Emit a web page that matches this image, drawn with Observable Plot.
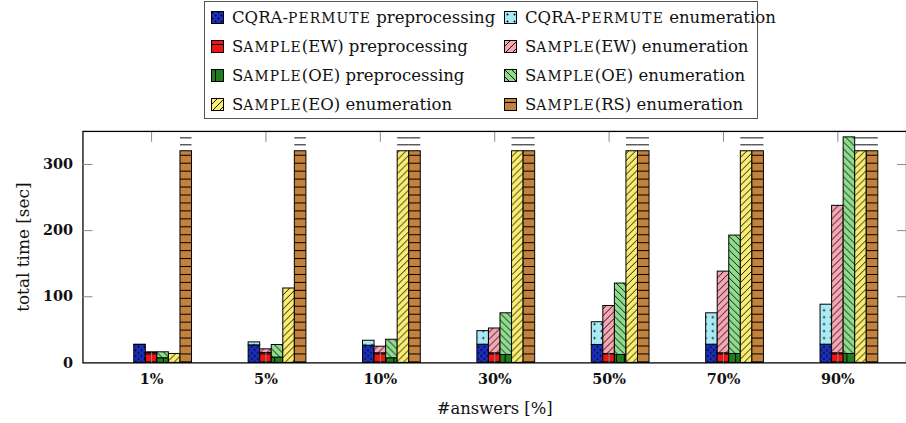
<!DOCTYPE html>
<html>
<head>
<meta charset="utf-8">
<script src="https://cdn.jsdelivr.net/npm/d3@7"></script>
<script src="https://cdn.jsdelivr.net/npm/@observablehq/plot@0.6"></script>
<style>
  html, body { margin: 0; padding: 0; overflow: hidden; background: #fff; }
  #page { position: relative; width: 906px; height: 423px; overflow: hidden; }
  #defs { position: absolute; width: 0; height: 0; }
  #legend {
    position: absolute; left: 204px; top: 1px; width: 554px; height: 118px;
    box-sizing: border-box; border: 1px solid #555; padding: 1px 0 0 6px;
    display: grid; grid-template-columns: 293px auto; grid-auto-rows: 29px;
    font-family: "DejaVu Serif", serif; font-size: 16.5px; color: #111;
  }
  .item { display: flex; align-items: center; white-space: nowrap; }
  .item svg { flex: none; margin-right: 8px; }
  .sc { text-transform: uppercase; font-size: 0.84em; letter-spacing: 0.08em; }
  #chart { position: absolute; left: 0; top: 119px; }
</style>
</head>
<body>
<div id="page">
  <svg id="defs" aria-hidden="true">
    <defs>
      <pattern id="p-cqra-pre" width="6" height="6" patternUnits="userSpaceOnUse">
        <rect width="6" height="6" fill="#1a2fc0"/>
        <circle cx="1.5" cy="1.5" r="0.95" fill="#000"/>
        <circle cx="4.5" cy="4.5" r="0.95" fill="#000"/>
      </pattern>
      <pattern id="p-cqra-enum" width="7" height="7" patternUnits="userSpaceOnUse">
        <rect width="7" height="7" fill="#a8ebf5"/>
        <circle cx="3.5" cy="3.5" r="1" fill="#000"/>
      </pattern>
      <pattern id="p-ew-pre" width="8" height="8" patternUnits="userSpaceOnUse">
        <rect width="8" height="8" fill="#ee1515"/>
        <path d="M0,4.5H8" stroke="#000" stroke-width="1"/>
      </pattern>
      <pattern id="p-ew-enum" width="7" height="7" patternUnits="userSpaceOnUse">
        <rect width="7" height="7" fill="#f5a7b4"/>
        <path d="M0,7L7,0M-1,1L1,-1M6,8L8,6" stroke="#000" stroke-width="0.9"/>
      </pattern>
      <pattern id="p-oe-pre" width="8" height="8" patternUnits="userSpaceOnUse">
        <rect width="8" height="8" fill="#1e7d1e"/>
        <path d="M4.5,0V8" stroke="#000" stroke-width="1"/>
      </pattern>
      <pattern id="p-oe-enum" width="7" height="7" patternUnits="userSpaceOnUse">
        <rect width="7" height="7" fill="#8fdc8f"/>
        <path d="M0,0L7,7M-1,6L1,8M6,-1L8,1" stroke="#000" stroke-width="0.9"/>
      </pattern>
      <pattern id="p-eo-enum" width="7" height="7" patternUnits="userSpaceOnUse">
        <rect width="7" height="7" fill="#f8ec72"/>
        <path d="M0,7L7,0M-1,1L1,-1M6,8L8,6" stroke="#000" stroke-width="0.9"/>
      </pattern>
      <pattern id="p-rs-enum" width="8" height="8" patternUnits="userSpaceOnUse">
        <rect width="8" height="8" fill="#c2823d"/>
        <path d="M0,4.5H8" stroke="#000" stroke-width="1"/>
      </pattern>
    </defs>
  </svg>
  <div id="legend"></div>
  <div id="chart"></div>
</div>
<script>
// Share of answers requested
const groups = ["1%", "5%", "10%", "30%", "50%", "70%", "90%"];

// Total time in seconds, split into preprocessing and enumeration
const cqraPre  = [27, 26.5, 26, 27.5, 27, 27.5, 27.5];
const cqraEnum = [0.5, 4.5, 7.5, 20.5, 34.5, 47.5, 60.5];
const ewPre    = [15, 15, 14.5, 14.5, 13.5, 14.5, 14.5];
const ewEnum   = [1, 5.5, 10, 37.5, 72.5, 123.5, 223];
const oePre    = [7, 8, 7, 12, 12, 13.5, 13.5];
const oeEnum   = [9, 19, 28, 63, 108, 179, 327.5];
const eoEnum   = [13.5, 112.5, 320, 320, 320, 320, 320];
const rsEnum   = [320, 320, 320, 320, 320, 320, 320];

// Runs that hit the time limit are drawn at this value
const TIMEOUT = 320;

const yTicks = [0, 100, 200, 300];
const xLabel = "#answers [%]";
const yLabel = "total time [sec]";

// Legend entries, {…} is set in small capitals
const legendLabels = [
  "CQRA-{permute} preprocessing", "CQRA-{permute} enumeration",
  "S{ample}(EW) preprocessing",   "S{ample}(EW) enumeration",
  "S{ample}(OE) preprocessing",   "S{ample}(OE) enumeration",
  "S{ample}(EO) enumeration",     "S{ample}(RS) enumeration"
];
const legendFills = [
  "p-cqra-pre", "p-cqra-enum", "p-ew-pre", "p-ew-enum",
  "p-oe-pre", "p-oe-enum", "p-eo-enum", "p-rs-enum"
];

// Each method gets one slot next to the group tick; width of a bar in group units
const BAR = 0.101;
const methods = [
  {slot: -1, pre: cqraPre, enumr: cqraEnum, preFill: "p-cqra-pre", enumFill: "p-cqra-enum"},
  {slot:  0, pre: ewPre,   enumr: ewEnum,   preFill: "p-ew-pre",   enumFill: "p-ew-enum"},
  {slot:  1, pre: oePre,   enumr: oeEnum,   preFill: "p-oe-pre",   enumFill: "p-oe-enum"},
  {slot:  2, pre: null,    enumr: eoEnum,   preFill: null,         enumFill: "p-eo-enum"},
  {slot:  3, pre: null,    enumr: rsEnum,   preFill: null,         enumFill: "p-rs-enum"}
];

const barMarks = [];
const timeoutRows = [];
for (const m of methods) {
  const base = groups.map((g, i) => ({
    x1: i + (m.slot - 0.5) * BAR,
    x2: i + (m.slot + 0.5) * BAR,
    pre: m.pre ? m.pre[i] : 0,
    enumr: m.enumr[i]
  }));
  if (m.pre) {
    barMarks.push(Plot.rectY(base, {
      x1: "x1", x2: "x2", y1: 0, y2: "pre",
      fill: `url(#${m.preFill})`, stroke: "#000", strokeWidth: 1
    }));
  }
  barMarks.push(Plot.rectY(base, {
    x1: "x1", x2: "x2", y1: "pre", y2: d => d.pre + d.enumr,
    fill: `url(#${m.enumFill})`, stroke: "#000", strokeWidth: 1
  }));
  for (const d of base) {
    if (!m.pre && d.enumr >= TIMEOUT) timeoutRows.push({x1: d.x1, x2: d.x2, y: d.enumr});
  }
}

const groupIdx = d3.range(groups.length);
const serif = "DejaVu Serif";

const chart = Plot.plot({
  width: 912,
  height: 304,
  marginTop: 12,
  marginBottom: 59,
  marginLeft: 83,
  marginRight: 0,
  x: {domain: [-0.6, 6.6]},
  y: {domain: [0, 350]},
  style: {fontFamily: serif, background: "transparent", overflow: "visible"},
  marks: [
    ...barMarks,
    // time-limit markers above capped bars
    Plot.ruleY(timeoutRows, {x1: "x1", x2: "x2", y: "y", dy: -6.5, stroke: "#222", strokeWidth: 1.1}),
    Plot.ruleY(timeoutRows, {x1: "x1", x2: "x2", y: "y", dy: -13.5, stroke: "#222", strokeWidth: 1.1}),
    Plot.frame({stroke: "#000", strokeWidth: 1.3}),
    // inward tick marks on all four sides
    Plot.axisX({ticks: groupIdx, tickSize: 10, dy: -10, tickFormat: () => "", fill: "none", stroke: "#888", label: null}),
    Plot.axisX({anchor: "top", ticks: groupIdx, tickSize: 10, dy: 10, tickFormat: () => "", fill: "none", stroke: "#888", label: null}),
    Plot.axisY({ticks: yTicks.slice(1), tickSize: 10, dx: 10, tickFormat: () => "", fill: "none", stroke: "#888", label: null}),
    Plot.axisY({anchor: "right", ticks: yTicks.slice(1), tickSize: 10, dx: -10, tickFormat: () => "", fill: "none", stroke: "#888", label: null}),
    // tick labels
    Plot.axisX({ticks: groupIdx, tickFormat: i => groups[i], tickSize: 0, tickPadding: 11,
      fontSize: 14.5, fontWeight: "bold", fontFamily: serif, fill: "#111", label: null}),
    Plot.axisY({ticks: yTicks, tickSize: 0, tickPadding: 10,
      fontSize: 14.5, fontWeight: "bold", fontFamily: serif, fill: "#111", label: null}),
    // axis titles
    Plot.text([xLabel], {text: d => d, frameAnchor: "bottom", dy: 46, lineAnchor: "middle",
      textAnchor: "middle", fontSize: 16.5, fontFamily: serif, fill: "#111"}),
    Plot.text([yLabel], {text: d => d, frameAnchor: "left", dx: -60, rotate: -90, lineAnchor: "middle",
      textAnchor: "middle", fontSize: 17, fontFamily: serif, fill: "#111"})
  ]
});
document.getElementById("chart").appendChild(chart);

// Legend: two columns, pattern swatch followed by the series name
const legend = document.getElementById("legend");
legendLabels.forEach((label, k) => {
  const item = document.createElement("div");
  item.className = "item";
  item.innerHTML =
    `<svg width="13" height="13"><rect x="0.5" y="0.5" width="12" height="12" fill="url(#${legendFills[k]})" stroke="#000" stroke-width="1"/></svg>` +
    `<span>${label.replace(/\{(.*?)\}/g, '<span class="sc">$1</span>')}</span>`;
  legend.appendChild(item);
});
</script>
</body>
</html>
